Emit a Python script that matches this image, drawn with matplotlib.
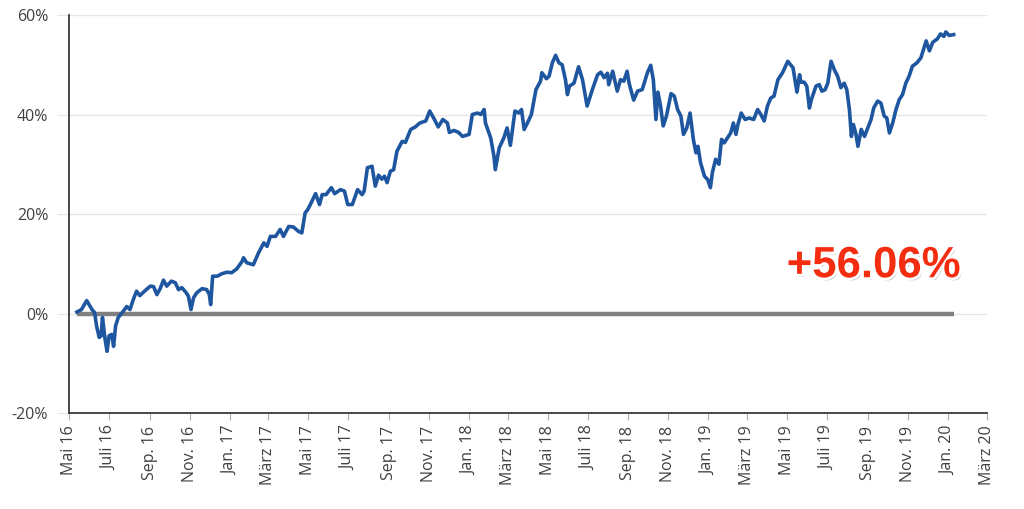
import matplotlib
matplotlib.use("Agg")
import matplotlib.dates as mdates  # noqa: E402
import matplotlib.patheffects as pe  # noqa: E402
import matplotlib.pyplot as plt  # noqa: E402
import pandas as pd  # noqa: E402
from matplotlib.ticker import FuncFormatter  # noqa: E402

plt.rcParams["font.family"] = ["Open Sans", "DejaVu Sans"]

START = "2016-05-01"
AXIS_END = "2020-03-01"

# days after START
days_since_start = [
    12, 19, 27, 35, 39, 42, 46, 49, 51, 55, 58, 61, 65, 68, 71, 75, 83, 88, 93, 98,
    103, 108, 116, 124, 129, 134, 139, 144, 149, 156, 162, 167, 172, 178, 182, 186,
    190, 195, 203, 210, 214, 216, 219, 226, 233, 241, 248, 256, 264,
    266, 271, 281, 289, 297, 302, 307, 315, 322, 327, 335, 342, 350, 355, 360, 364,
    368, 376, 382, 386, 392, 400, 405, 414, 420, 425, 432, 440, 447, 450, 455, 462,
    467, 472, 477, 481, 485, 490, 495, 500, 508, 513, 521, 528, 535,
    544, 550, 556, 563, 570, 577, 580, 587, 594, 600, 610, 615, 623, 628, 633, 635,
    643, 648, 650, 656, 663, 668, 673, 680, 686, 690, 694, 699, 705, 712, 719, 721,
    728, 732, 737, 742, 747, 752, 757, 760, 763, 770, 777, 783, 790, 798, 806, 811,
    816, 821, 823, 829,
    836, 841, 846, 851, 854, 861, 867, 874, 882, 887, 891, 895, 898, 902, 906, 911,
    918, 923, 928, 933, 937, 942, 947, 952, 956, 959, 963, 969, 974, 978, 981, 986,
    991, 995, 999, 1004, 1009, 1013, 1017, 1020, 1025, 1031, 1037, 1044, 1050, 1055,
    1060, 1065, 1070, 1075, 1081, 1088, 1096, 1104, 1110, 1114,
    1116, 1121, 1125, 1129, 1132, 1139, 1144, 1148, 1153, 1157, 1162, 1167, 1172,
    1177, 1182, 1186, 1190, 1193, 1196, 1200, 1203, 1208, 1213, 1218, 1223, 1227,
    1233, 1238, 1243, 1247, 1251, 1256, 1261, 1266, 1271, 1276, 1281, 1286, 1293,
    1299, 1307, 1312, 1317, 1324, 1329, 1334, 1337, 1342, 1349,
]

# cumulative performance in %
performance = [
    0.3, 0.8, 2.6, 0.8, 0.2, -2.5, -4.8, -4.5, -0.8, -5.2, -7.6, -4.5, -4.2, -6.6,
    -2.5, -0.8, 0.5, 1.4, 0.8, 2.8, 4.5, 3.6, 4.6, 5.5, 5.4, 3.8, 5.0, 6.7, 5.5, 6.5,
    6.2, 4.8, 5.2, 4.3, 3.5, 0.8, 3.2, 4.2, 5.0, 4.8, 3.8, 1.8, 7.5, 7.5, 8.0, 8.3,
    8.2, 9.0, 10.5,
    11.2, 10.2, 9.8, 12.2, 14.2, 13.5, 15.5, 15.5, 16.9, 15.5, 17.5, 17.4, 16.5, 16.2,
    20.2, 20.9, 21.9, 24.1, 21.9, 23.9, 23.9, 25.3, 24.1, 24.9, 24.6, 21.9, 21.9,
    24.9, 23.9, 24.6, 29.3, 29.6, 25.6, 27.8, 27.0, 27.6, 26.3, 28.6, 28.9, 32.6,
    34.6, 34.4, 37.0, 37.5, 38.3,
    38.7, 40.7, 39.3, 37.5, 39.0, 38.3, 36.4, 36.8, 36.4, 35.6, 36.0, 40.0, 40.3,
    40.0, 41.0, 38.3, 35.3, 31.6, 28.9, 33.3, 35.3, 37.3, 33.8, 40.7, 40.3, 41.0,
    37.0, 38.3, 40.0, 45.0, 46.7, 48.4, 47.2, 47.7, 50.4, 51.9, 50.4, 50.0, 47.0,
    44.0, 45.7, 46.3, 49.6, 47.0, 41.7, 45.0, 48.0, 48.5, 47.4, 48.3, 46.0, 48.7,
    44.7, 47.0, 46.7, 48.7, 46.3, 42.9, 44.7, 45.0, 48.4, 49.9, 47.0, 39.0, 44.5,
    41.7, 37.7, 39.7, 44.2, 43.7, 41.0, 39.7, 36.0, 37.3, 40.3, 35.0, 32.3, 33.6,
    30.3, 27.6, 26.9, 25.3, 28.3, 31.0, 30.0, 35.0, 34.3, 35.3, 36.3, 38.3, 36.0,
    38.0, 40.3, 39.0, 39.3, 39.0, 41.0, 40.0, 38.7, 41.7, 43.3, 43.7, 47.0, 48.4,
    50.7, 49.4, 44.5, 48.0,
    46.5, 46.5, 45.7, 41.3, 43.0, 45.7, 46.0, 44.7, 45.0, 46.3, 50.7, 49.0, 47.7,
    45.4, 46.3, 45.0, 41.0, 35.6, 38.0, 36.0, 33.6, 37.0, 35.6, 37.3, 39.0, 41.3,
    42.7, 42.3, 39.7, 39.3, 36.3, 38.3, 41.0, 43.0, 44.0, 46.3, 47.7, 49.7, 50.4,
    51.4, 54.8, 52.8, 54.5, 55.2, 56.2, 55.7, 56.6, 55.9, 56.06,
]

y_ticks = [-20, 0, 20, 40, 60]
month_names = {1: "Jan.", 3: "März", 5: "Mai", 7: "Juli", 9: "Sep.", 11: "Nov."}
total_label = "+56.06%"

dates = pd.Timestamp(START) + pd.to_timedelta(days_since_start, unit="D")

fig = plt.figure(figsize=(10.24, 5.09), dpi=100)
ax = fig.add_axes([0.0674, 0.1886, 0.8966, 0.7819])

ax.set_ylim(-20, 60)
ax.set_xlim(pd.Timestamp(START), pd.Timestamp(AXIS_END))
ax.set_yticks(y_ticks)
ax.yaxis.set_major_formatter(FuncFormatter(lambda v, _: f"{v:.0f}%"))
ax.grid(axis="y", color="#e6e6e6", linewidth=1.0, zorder=0)
ax.set_axisbelow(True)


def month_label(v, _):
    d = mdates.num2date(v)
    return f"{month_names[d.month]} {d.year % 100:02d}"


ax.xaxis.set_major_locator(mdates.MonthLocator(bymonth=[1, 3, 5, 7, 9, 11]))
ax.xaxis.set_major_formatter(FuncFormatter(month_label))

for s in ["top", "right"]:
    ax.spines[s].set_visible(False)
for s in ["left", "bottom"]:
    ax.spines[s].set_color("#3a3a3a")
    ax.spines[s].set_linewidth(1.3)

ax.tick_params(axis="y", length=9, color="#e6e6e6", labelsize=11.5,
               labelcolor="#404040", pad=6)
ax.tick_params(axis="x", length=5, color="#b0b0b0", labelsize=11.5,
               labelcolor="#404040", labelrotation=90, pad=4)

# zero baseline
ax.hlines(0, dates[0], dates[-1], color="#808080", linewidth=3.2, zorder=2)
ax.plot(dates, performance, color="#1f56a0", linewidth=2.6, zorder=3,
        solid_joinstyle="round")

ax.text(pd.Timestamp("2019-09-10"), 9.6, total_label, ha="center", va="center",
        fontsize=31.5, fontweight="bold", color="#f42d10",
        family=["Liberation Sans", "DejaVu Sans"], zorder=4,
        path_effects=[pe.withSimplePatchShadow(offset=(1.5, -2), shadow_rgbFace="#888888",
                                               alpha=0.6),
                      pe.Stroke(linewidth=4, foreground="white"), pe.Normal()])

fig.savefig("out.png", dpi=100)
